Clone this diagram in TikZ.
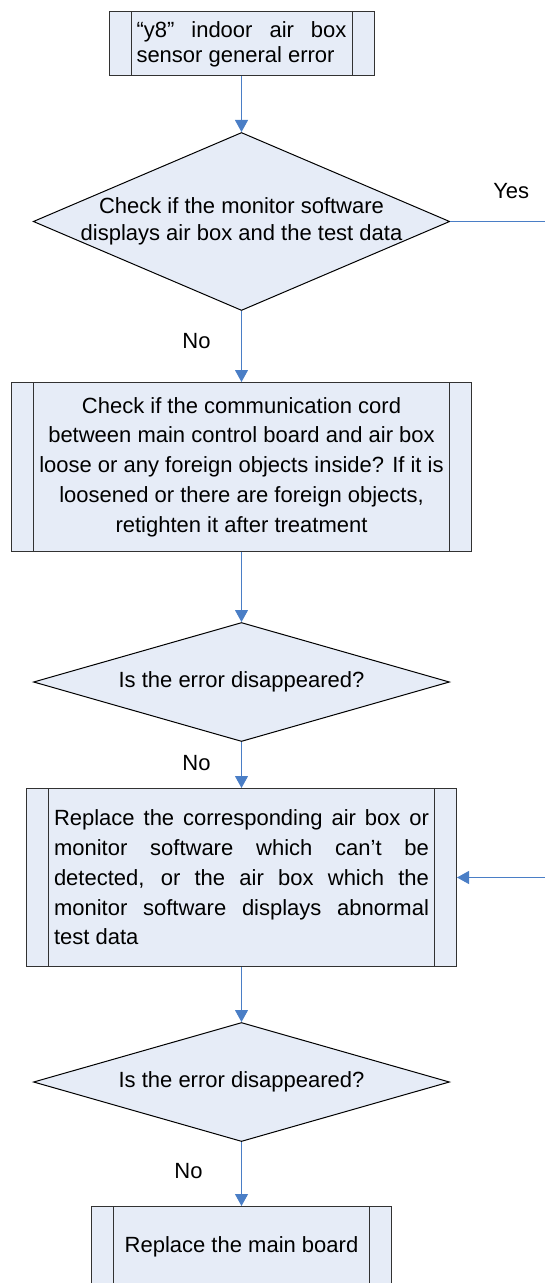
\documentclass[tikz,border=0pt]{standalone}
\usepackage{fontspec}
\setmainfont{Liberation Sans}
\usepackage{tikz}
\usetikzlibrary{shapes,arrows,arrows.meta,positioning,calc}
\definecolor{boxfill}{RGB}{230,236,247}
\definecolor{boxline}{RGB}{50,50,50}
\definecolor{flowblue}{RGB}{74,126,198}
\tikzstyle{line} = [draw=flowblue, line width=0.5pt, -{Triangle[width=6.5pt,length=6pt]}]
\tikzstyle{proc} = [draw=boxline, fill=boxfill, rectangle, line width=0.5pt, inner sep=0pt,
    path picture={\draw [boxline, line width=0.5pt]
        ([xshift=11pt]path picture bounding box.north west) -- ([xshift=11pt]path picture bounding box.south west)
        ([xshift=-11pt]path picture bounding box.north east) -- ([xshift=-11pt]path picture bounding box.south east);}]
\tikzstyle{decide} = [draw=black, fill=boxfill, diamond, line width=0.5pt, inner sep=0pt, minimum width=208pt, align=center]
\tikzstyle{lbl} = [inner sep=0pt]

\begin{document}
\begin{tikzpicture}[font=\fontsize{11}{14.85}\selectfont]
    \useasboundingbox (0,0) rectangle (272.5pt,-641.5pt);
    \coordinate (rim) at (272.5pt,0);

    \node [proc, minimum width=132.5pt, minimum height=32pt, text width=105pt, align=justify, font=\fontsize{11}{12.5}\selectfont] (start) at (120.75pt,-22pt) {“y8” indoor air box\linebreak sensor general error};
    \node [decide, shape aspect=2.34, inner xsep=-4.25pt, minimum height=89pt, font=\fontsize{11}{13.65}\selectfont, below=27.75pt of start] (dia1) {Check if the monitor software\\displays air box and the test data};
    \node [proc, minimum width=230pt, minimum height=84.5pt, align=center, below=35.5pt of dia1] (cord) {Check if the communication cord\\between main control board and air box\\loose or any foreign objects inside? If it is\\loosened or there are foreign objects,\\retighten it after treatment};
    \node [decide, shape aspect=3.5, minimum height=59.5pt, below=35pt of cord] (dia2) {Is the error disappeared?};
    \node [proc, minimum width=215pt, minimum height=89pt, text width=187.5pt, align=justify, below=23pt of dia2] (swap) {Replace the corresponding air box or\linebreak monitor software which can’t be\linebreak detected, or the air box which the\linebreak monitor software displays abnormal\linebreak test data};
    \node [decide, shape aspect=3.5, minimum height=59.5pt, below=27.5pt of swap] (dia3) {Is the error disappeared?};
    \node [proc, minimum width=150pt, minimum height=40pt, below=32pt of dia3] (board) {Replace the main board};

    \node [lbl] (yes) at ($(dia1.east)+(30.5pt,15.25pt)$) {Yes};
    \node [lbl] (no1) at ($(dia1.south)+(-22.5pt,-15pt)$) {No};
    \node [lbl] (no2) at ($(dia2.south)+(-22.5pt,-10.5pt)$) {No};
    \node [lbl] (no3) at ($(dia3.south)+(-26.5pt,-14.5pt)$) {No};

    \coordinate (yesend) at (dia1.east -| rim);
    \coordinate (loopin) at (swap.east -| rim);

    \path [line] (start) -- (dia1);
    \draw [flowblue, line width=0.5pt] (dia1.east) -- (yesend);
    \path [line] (dia1) -- (cord);
    \path [line] (cord) -- (dia2);
    \path [line] (dia2) -- (swap);
    \path [line] (loopin) -- (swap.east);
    \path [line] (swap) -- (dia3);
    \path [line] (dia3) -- (board);
\end{tikzpicture}
\end{document}
